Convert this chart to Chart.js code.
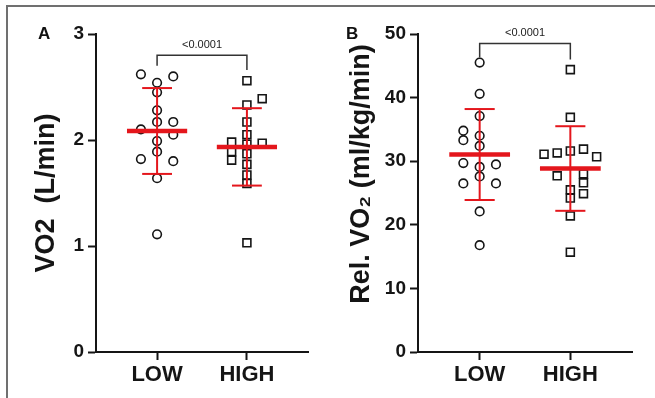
<!DOCTYPE html>
<html>
<head>
<meta charset="utf-8">
<script src="https://cdn.jsdelivr.net/npm/chart.js@4"></script>
<style>
  body { margin: 0; background: #fff; }
  #wrap { position: relative; width: 655px; height: 398px; overflow: hidden; background: #fff; }
  #frame { position: absolute; left: 6px; top: 5px; width: 720px; height: 500px;
           border-left: 2px solid #707070; border-top: 2px solid #707070; }
  canvas { position: absolute; top: 0; }
  .tag { position: absolute; font: bold 17px "Liberation Sans", Arial, sans-serif; color: #111; }
</style>
</head>
<body>
<div id="wrap">
  <div id="frame"></div>
  <canvas id="chartA" width="327" height="398" style="left:0"></canvas>
  <canvas id="chartB" width="328" height="398" style="left:327px"></canvas>
  <div class="tag" style="left:38px;top:24px">A</div>
  <div class="tag" style="left:346px;top:24px">B</div>
</div>
<script>
// ===== Data =====
const groups = ["LOW", "HIGH"];
const pLabel = "<0.0001";

// Panel A: absolute VO2 (L/min)
const absTicks = [0, 1, 2, 3];
const absLowVals = [2.62, 2.60, 2.54, 2.45, 2.28, 2.17, 2.17, 2.10, 2.05, 1.99, 1.89, 1.82, 1.80, 1.64, 1.11];
const absLowJit  = [-0.18, 0.18, 0, 0, 0, 0, 0.18, -0.18, 0.18, 0, 0, -0.18, 0.18, 0, 0];
const absHighVals = [2.56, 2.39, 2.33, 2.17, 2.05, 1.98, 1.97, 1.96, 1.89, 1.87, 1.81, 1.77, 1.67, 1.59, 1.03];
const absHighJit  = [0, 0.17, 0, 0, 0, -0.17, 0.17, 0, -0.17, 0, -0.17, 0, 0, 0, 0];
const absMean = [2.085, 1.935];
const absSD = [0.405, 0.365];
const absBracket = [2.80, 2.70, 2.66]; // top, left leg end, right leg end

// Panel B: relative VO2 (ml/kg/min)
const relTicks = [0, 10, 20, 30, 40, 50];
const relLowVals = [45.5, 40.6, 37.1, 34.8, 33.3, 34.0, 32.4, 29.7, 29.5, 29.1, 27.6, 26.5, 26.5, 22.1, 16.8];
const relLowJit  = [0, 0, 0, -0.18, -0.18, 0, 0, -0.18, 0.18, 0, 0, -0.18, 0.18, 0, 0];
const relHighVals = [44.4, 36.9, 31.1, 31.3, 31.6, 31.9, 30.7, 27.7, 28.0, 26.6, 24.9, 25.5, 24.2, 21.4, 15.7];
const relHighJit  = [0, 0, -0.29, -0.145, 0, 0.145, 0.29, -0.145, 0.145, 0.145, 0.145, 0, 0, 0, 0];
const relMean = [31.05, 28.85];
const relSD = [7.15, 6.65];
const relBracket = [48.5, 46.3, 46.0];

// ===== Styles =====
const FONT = '"Liberation Sans", Arial, sans-serif';
const RED = "#e4161c";
const INK = "#151515";

function pts(vals, jit, group) {
    return vals.map(function(v, i) { return { x: group + jit[i], y: v }; });
}

function seg(points, width) {
    return {
        type: "line",
        data: points.map(function(p) { return { x: p[0], y: p[1] }; }),
        showLine: true,
        borderColor: RED,
        borderWidth: width,
        pointRadius: 0,
        clip: false,
        order: 0
    };
}

// mean line, SD whisker and caps for each group
function statSets(means, sds) {
    const sets = [];
    means.forEach(function(m, i) {
        const lo = m - sds[i], hi = m + sds[i];
        sets.push(seg([[i, lo], [i, hi]], 2));
        sets.push(seg([[i - 0.166, hi], [i + 0.166, hi]], 2));
        sets.push(seg([[i - 0.166, lo], [i + 0.166, lo]], 2));
        sets.push(seg([[i - 0.335, m], [i + 0.335, m]], 4.5));
    });
    return sets;
}

// p-value text above the bracket + rotated y title
const textPlugin = {
    id: "panelText",
    afterDatasetsDraw(chart, args, opts) {
        const ctx = chart.ctx;
        const x = chart.scales.x.getPixelForValue(0.5);
        const y = chart.scales.y.getPixelForValue(opts.top);
        ctx.save();
        ctx.fillStyle = "#222";
        ctx.font = "11px " + FONT;
        ctx.textAlign = "center";
        ctx.textBaseline = "bottom";
        ctx.fillText(pLabel, x, y - 5);

        ctx.translate(opts.titleX, opts.titleY);
        ctx.rotate(-Math.PI / 2);
        ctx.fillStyle = INK;
        ctx.font = "bold " + opts.titleSize + "px " + FONT;
        ctx.textBaseline = "middle";
        ctx.fillText(opts.title, 0, 0);
        ctx.restore();
    }
};

function makePanel(id, o) {
    const bracket = {
        type: "line",
        data: [
            { x: 0, y: o.bracket[1] }, { x: 0, y: o.bracket[0] },
            { x: 1, y: o.bracket[0] }, { x: 1, y: o.bracket[2] }
        ],
        showLine: true,
        borderColor: "#333",
        borderWidth: 1.5,
        pointRadius: 0,
        clip: false,
        order: 2
    };
    const low = {
        data: pts(o.low, o.lowJit, 0),
        pointStyle: "circle",
        pointRadius: 4.3,
        borderWidth: 1.6,
        borderColor: INK,
        backgroundColor: "rgba(255,255,255,0)",
        clip: false,
        order: 1
    };
    const high = {
        data: pts(o.high, o.highJit, 1),
        pointStyle: "rect",
        pointRadius: 5.6,
        borderWidth: 1.6,
        borderColor: INK,
        backgroundColor: "rgba(255,255,255,0)",
        clip: false,
        order: 1
    };

    return new Chart(document.getElementById(id), {
        type: "scatter",
        data: { datasets: statSets(o.mean, o.sd).concat([low, high, bracket]) },
        options: {
            responsive: false,
            animation: false,
            layout: { padding: { left: 0, right: o.padRight, top: 34, bottom: 0 } },
            plugins: {
                legend: { display: false },
                tooltip: { enabled: false },
                panelText: {
                    top: o.bracket[0], title: o.title, titleSize: 27,
                    titleX: o.titleX, titleY: o.titleY
                }
            },
            scales: {
                x: {
                    type: "linear",
                    min: -0.68,
                    max: 1.68,
                    afterBuildTicks: function(s) { s.ticks = groups.map(function(g, i) { return { value: i }; }); },
                    afterFit: function(s) { s.height = 46; },
                    ticks: {
                        callback: function(v) { return groups[v]; },
                        color: INK,
                        font: { family: FONT, size: 22, weight: "bold" },
                        padding: 2,
                        maxRotation: 0
                    },
                    grid: { drawOnChartArea: false, tickLength: 8, tickWidth: 2, color: INK },
                    border: { color: INK, width: 2 }
                },
                y: {
                    min: 0,
                    max: o.ticks[o.ticks.length - 1],
                    afterBuildTicks: function(s) { s.ticks = o.ticks.map(function(v) { return { value: v }; }); },
                    afterFit: function(s) { s.width = o.yWidth; },
                    ticks: {
                        color: INK,
                        font: { family: FONT, size: 19, weight: "bold" },
                        padding: 4
                    },
                    grid: { drawOnChartArea: false, tickLength: 8, tickWidth: 2, color: INK },
                    border: { color: INK, width: 2 }
                }
            }
        },
        plugins: [textPlugin]
    });
}

makePanel("chartA", {
    low: absLowVals, lowJit: absLowJit, high: absHighVals, highJit: absHighJit,
    mean: absMean, sd: absSD, bracket: absBracket, ticks: absTicks,
    title: "VO2  (L/min)", titleX: 47, titleY: 193,
    yWidth: 96, padRight: 19
});

makePanel("chartB", {
    low: relLowVals, lowJit: relLowJit, high: relHighVals, highJit: relHighJit,
    mean: relMean, sd: relSD, bracket: relBracket, ticks: relTicks,
    title: "Rel. VO\u2082 (ml/kg/min)", titleX: 35, titleY: 174,
    yWidth: 91, padRight: 23
});
</script>
</body>
</html>
